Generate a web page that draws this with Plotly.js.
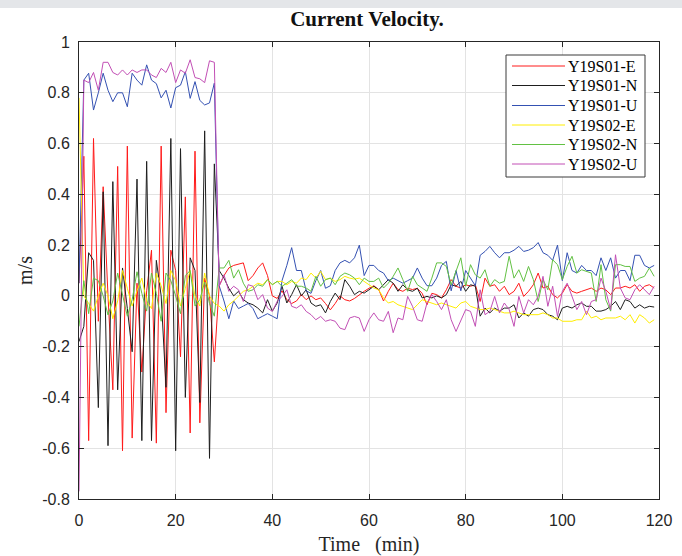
<!DOCTYPE html>
<html>
<head>
<meta charset="utf-8">
<script src="https://cdn.plot.ly/plotly-3.0.1.min.js"></script>
<style>
  html, body { margin: 0; padding: 0; background: #ffffff; }
  #wrap { position: relative; width: 682px; height: 556px; }
  #chart { position: absolute; left: 0; top: 0; width: 682px; height: 556px; }
  #band { position: absolute; left: 0; top: 0; width: 682px; height: 8px; background: #e4e6e9; z-index: 5; }
</style>
</head>
<body>
<div id="wrap"><div id="chart"></div><div id="band"></div></div>
<script>
// ---- data (m/s), one sample per minute, t = 0..119 ----
const seriesNames = ["Y19S01-E", "Y19S01-N", "Y19S01-U", "Y19S02-E", "Y19S02-N", "Y19S02-U"];

const s1E = [0.05, 0.55, -0.57, 0.62, -0.1, 0.43, 0.0, -0.37, 0.51, -0.61, 0.59, -0.56, 0.05, -0.3, 0.02, 0.18, -0.58, 0.59, -0.46, 0.18, 0.1, -0.24, 0.39, -0.54, 0.57, -0.5, 0.07, 0.0, -0.26,
  0.04, 0.08, 0.11, 0.12, 0.125, 0.13, 0.06, 0.08, 0.11, 0.13, 0.08, 0.0, -0.01, 0.02, -0.015, -0.03, -0.02, 0.005, -0.015, 0.0, -0.015, -0.008, -0.03, -0.055, -0.03, 0.0, -0.015, -0.02, -0.01, 0.005, 0.018, 0.03, 0.04, 0.025, -0.02, 0.018, 0.05, 0.025, 0.018, 0.03, 0.025, 0.03, 0.01, -0.035, 0.01, 0.005,
  -0.008, 0.024, 0.064, 0.038, 0.031, 0.044, 0.038, 0.044, -0.022, 0.07, 0.038, 0.044, 0.018, 0.038, 0.005, 0.018, 0.05, -0.002, 0.018, 0.044, 0.09, 0.031, 0.038, 0.005, -0.008, 0.011, 0.044, 0.018, 0.011, 0.018, 0.024, 0.031, 0.018, 0.031, 0.024, 0.005, 0.031, 0.031, 0.038, 0.031, 0.044, 0.018, 0.038, 0.044, 0.031];

const s1N = [-0.18, -0.12, 0.17, 0.14, -0.44, 0.41, -0.59, 0.45, -0.37, 0.11, -0.05, -0.22, 0.46, -0.57, 0.53, -0.57, 0.14, 0.0, -0.36, 0.62, -0.61, 0.58, -0.4, 0.15, 0.1, -0.42, 0.65, -0.64, 0.52,
  0.1, 0.07, 0.03, 0.0, 0.018, -0.015, -0.028, -0.035, -0.048, -0.067, -0.015, -0.06, -0.028, 0.038, -0.028, 0.005, 0.044, 0.0, 0.024, -0.028, -0.041, -0.035, -0.067, -0.022, 0.011, -0.015, 0.064, 0.038, 0.005, 0.018, 0.011, 0.024, 0.038, 0.024, 0.044, 0.064, 0.05, 0.018, 0.044, 0.024, 0.018, 0.03, -0.008, -0.002, -0.008, 0.0,
  -0.008, 0.005, 0.044, 0.038, 0.057, 0.018, 0.044, 0.038, -0.08, -0.048, -0.067, -0.048, -0.06, -0.048, -0.048, -0.035, -0.087, -0.067, -0.08, -0.054, -0.048, -0.054, -0.074, -0.08, -0.094, -0.048, -0.041, -0.048, -0.035, -0.028, -0.041, -0.041, -0.06, -0.06, -0.054, -0.041, -0.022, -0.054, -0.015, -0.022, -0.048, -0.035, -0.048, -0.041, -0.044];

const s1U = [0.05, 0.85, 0.877, 0.732, 0.8, 0.877, 0.81, 0.765, 0.8, 0.8, 0.745, 0.877, 0.85, 0.83, 0.91, 0.85, 0.836, 0.78, 0.81, 0.74, 0.82, 0.83, 0.883, 0.778, 0.844, 0.77, 0.752, 0.76, 0.838,
  0.04, -0.02, -0.09, -0.02, -0.05, -0.04, -0.03, -0.05, -0.09, -0.08, -0.07, -0.08, -0.09, 0.06, 0.12, 0.19, 0.1, 0.1, 0.02, 0.01, 0.06, 0.1, 0.03, 0.04, 0.1, 0.13, 0.14, 0.13, 0.15, 0.2, 0.08, 0.12, 0.12, 0.1, 0.09, 0.06, 0.07, 0.06, 0.05, 0.06, 0.07, 0.11, 0.07, 0.04, 0.04, 0.07,
  0.12, 0.136, 0.02, 0.1, 0.02, 0.1, 0.07, 0.04, 0.16, 0.175, 0.195, 0.17, 0.15, 0.17, 0.17, 0.18, 0.195, 0.175, 0.18, 0.19, 0.21, 0.17, 0.16, 0.14, 0.2, 0.06, 0.17, 0.1, 0.09, 0.12, 0.1, 0.1, 0.08, 0.15, 0.1, 0.15, 0.07, 0.1, 0.1, 0.06, 0.16, 0.16, 0.12, 0.11, 0.12];

const s2E = [0.78, 0.0, -0.03, -0.06, 0.0, 0.05, 0.0, -0.09, -0.02, 0.1, 0.03, -0.04, 0.02, 0.07, -0.02, -0.05, 0.09, 0.04, -0.03, 0.1, 0.06, -0.04, 0.03, 0.1, 0.0, -0.04, 0.09, 0.0, -0.03,
  -0.04, -0.06, -0.035, -0.02, 0.0, 0.018, 0.024, 0.038, 0.05, 0.044, 0.064, 0.044, 0.057, 0.057, 0.044, 0.057, 0.05, 0.07, 0.064, 0.09, 0.07, 0.097, 0.064, 0.07, 0.057, 0.064, 0.077, 0.07, 0.066, 0.07, 0.057, 0.044, 0.031, 0.024, -0.008, -0.028, -0.022, -0.035, -0.041, -0.048, -0.054, -0.035, -0.015, -0.022, -0.028, -0.035,
  -0.028, -0.035, -0.041, -0.048, -0.028, -0.022, -0.041, -0.048, -0.054, -0.054, -0.048, -0.054, -0.06, -0.067, -0.067, -0.06, -0.067, -0.074, -0.074, -0.074, -0.074, -0.067, -0.074, -0.087, -0.087, -0.1, -0.1, -0.1, -0.094, -0.094, -0.06, -0.087, -0.08, -0.094, -0.087, -0.087, -0.087, -0.08, -0.094, -0.074, -0.107, -0.074, -0.087, -0.107, -0.094];

const s2N = [-0.12, 0.06, -0.07, 0.07, 0.06, 0.0, -0.075, -0.02, 0.09, 0.01, -0.08, -0.015, 0.095, 0.01, -0.06, 0.09, 0.01, -0.1, 0.09, 0.06, 0.0, -0.07, 0.08, 0.1, -0.04, -0.015, 0.055, -0.03, -0.08,
  0.11, 0.11, 0.14, 0.07, 0.103, 0.05, 0.018, 0.024, 0.044, 0.038, 0.064, 0.044, 0.057, 0.038, 0.05, 0.064, 0.038, 0.038, 0.031, 0.018, 0.077, 0.038, 0.064, 0.07, 0.044, 0.077, 0.09, 0.083, 0.07, 0.044, 0.07, 0.057, 0.057, 0.07, 0.031, 0.05, 0.077, 0.11, 0.064, 0.018, 0.077, 0.044, 0.031, 0.018, 0.07, 0.13,
  0.13, 0.116, 0.044, 0.097, 0.15, 0.038, 0.123, 0.083, 0.07, 0.103, 0.038, 0.064, 0.05, 0.057, 0.156, 0.07, 0.103, 0.057, 0.116, 0.064, -0.022, 0.064, 0.024, 0.142, 0.123, 0.064, 0.116, 0.156, 0.09, 0.103, 0.097, 0.09, -0.022, 0.123, -0.015, -0.06, 0.123, 0.123, 0.116, 0.116, 0.057, 0.07, 0.077, 0.11, 0.077];

const s2U = [-0.77, 0.85, 0.84, 0.88, 0.81, 0.92, 0.92, 0.88, 0.87, 0.89, 0.87, 0.89, 0.88, 0.89, 0.89, 0.87, 0.86, 0.896, 0.88, 0.92, 0.84, 0.89, 0.877, 0.93, 0.86, 0.855, 0.84, 0.926, 0.92,
  0.038, 0.083, 0.018, 0.038, 0.024, -0.022, 0.044, 0.038, -0.015, 0.005, -0.048, -0.061, -0.022, -0.002, 0.024, -0.041, -0.048, -0.035, -0.061, -0.074, -0.094, -0.081, -0.1, -0.094, -0.1, -0.127, -0.133, -0.087, -0.081, -0.087, -0.14, -0.094, -0.067, -0.094, -0.1, -0.061, -0.145, -0.087, -0.094, -0.002, -0.041, -0.094, -0.1, -0.028, 0.005, -0.022,
  -0.054, -0.015, -0.094, -0.14, -0.094, -0.054, -0.061, -0.12, 0.024, -0.074, -0.061, -0.002, -0.067, -0.028, -0.054, -0.12, -0.002, -0.067, -0.015, -0.035, -0.002, 0.077, -0.041, 0.038, -0.081, 0.018, 0.05, -0.002, -0.054, -0.022, -0.074, -0.022, -0.015, 0.07, 0.018, -0.054, 0.162, 0.031, -0.008, -0.015, 0.024, 0.044, 0.024, 0.005, 0.038];

const seriesValues = [s1E, s1N, s1U, s2E, s2N, s2U];
const timeMin = s1E.map((_, i) => i);   // sample time in minutes

const xTickVals = [0, 20, 40, 60, 80, 100, 120];
const xTickText = ["0", "20", "40", "60", "80", "100", "120"];
const yTickVals = [-0.8, -0.6, -0.4, -0.2, 0, 0.2, 0.4, 0.6, 0.8, 1];
const yTickText = ["-0.8", "-0.6", "-0.4", "-0.2", "0", "0.2", "0.4", "0.6", "0.8", "1"];

// ---- styles ----
const colors = ["#ff1a1a", "#1e1e1e", "#3451b2", "#ffee00", "#62c143", "#c24fb5"];
const serif = "Liberation Serif, Times New Roman, serif";
const sans = "Liberation Sans, Arial, sans-serif";

const traces = seriesNames.map((name, k) => ({
  type: "scatter",
  mode: "lines",
  name: name,
  x: timeMin,
  y: seriesValues[k],
  line: { color: colors[k], width: 1 },
  showlegend: false
}));

// plot-area geometry (pixels) for the boxed legend drawn in paper coordinates
const M = { l: 79, r: 23, t: 42, b: 57 };
const W = 682, H = 556;
const pw = W - M.l - M.r, ph = H - M.t - M.b;
const px2x = px => (px - M.l) / pw;
const py2y = py => (H - M.b - py) / ph;

const legendBox = { x0: 506, x1: 645, y0: 55, y1: 177 };
const legRowY = [66, 85.5, 105.5, 125, 144.5, 164];
const shapes = [{
  type: "rect", xref: "paper", yref: "paper",
  x0: px2x(legendBox.x0), x1: px2x(legendBox.x1),
  y0: py2y(legendBox.y1), y1: py2y(legendBox.y0),
  line: { color: "#3a3a3a", width: 1 }, fillcolor: "#ffffff", layer: "above"
}];
const annotations = [];
seriesNames.forEach((name, k) => {
  shapes.push({
    type: "line", xref: "paper", yref: "paper",
    x0: px2x(512), x1: px2x(565), y0: py2y(legRowY[k]), y1: py2y(legRowY[k]),
    line: { color: colors[k], width: 1 }, layer: "above"
  });
  annotations.push({
    xref: "paper", yref: "paper", x: px2x(566), y: py2y(legRowY[k]),
    xanchor: "left", yanchor: "middle", showarrow: false,
    text: name, font: { family: serif, size: 16, color: "#000000" }
  });
});

const axisCommon = {
  showline: true,
  linecolor: "#262626",
  linewidth: 1,
  mirror: "ticks",
  ticks: "inside",
  ticklen: 5,
  tickcolor: "#262626",
  showgrid: true,
  gridcolor: "#e3e3e3",
  gridwidth: 1,
  zeroline: false,
  tickfont: { family: sans, size: 16, color: "#262626" },
  tickmode: "array"
};

const layout = {
  width: W,
  height: H,
  margin: { l: M.l, r: M.r, t: M.t, b: M.b, pad: 0 },
  paper_bgcolor: "#ffffff",
  plot_bgcolor: "#ffffff",
  showlegend: false,
  title: {
    text: "<b>Current Velocity.</b>",
    font: { family: serif, size: 21, color: "#111111" },
    x: px2x(367), xref: "paper", xanchor: "center",
    y: 1 - 19 / H, yref: "container", yanchor: "middle"
  },
  xaxis: Object.assign({}, axisCommon, {
    range: [0, 120],
    tickvals: xTickVals,
    ticktext: xTickText,
    ticklabelstandoff: 7,
    title: { text: "Time   (min)", standoff: 8, font: { family: serif, size: 20, color: "#262626" } }
  }),
  yaxis: Object.assign({}, axisCommon, {
    range: [-0.8, 1],
    tickvals: yTickVals,
    ticktext: yTickText,
    ticklabelstandoff: 5,
    title: { text: "m/s", standoff: 4, font: { family: serif, size: 20, color: "#262626" } }
  }),
  shapes: shapes,
  annotations: annotations
};

Plotly.newPlot("chart", traces, layout, { displayModeBar: false, staticPlot: true });
</script>
</body>
</html>
